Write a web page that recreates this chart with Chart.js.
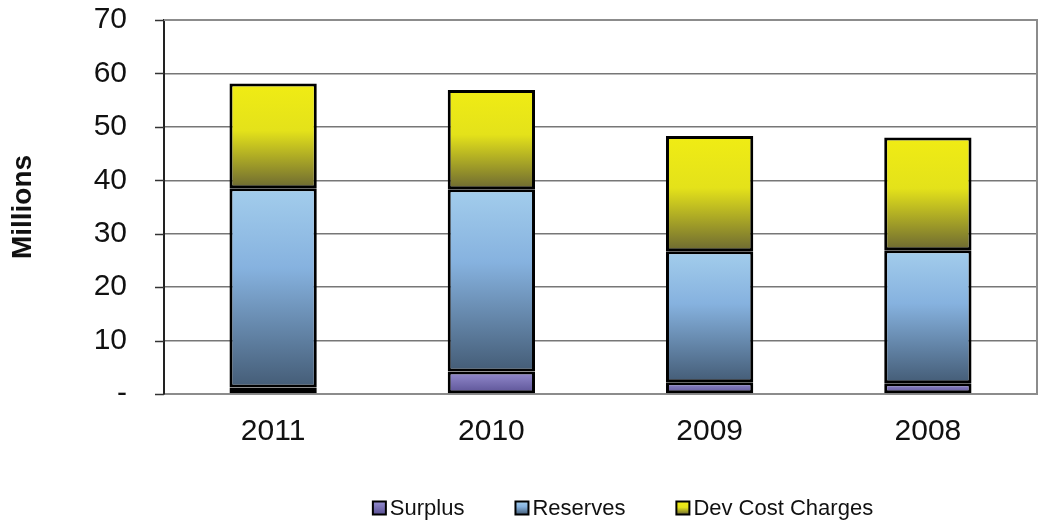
<!DOCTYPE html>
<html>
<head>
<meta charset="utf-8">
<script src="https://cdn.jsdelivr.net/npm/chart.js@4/dist/chart.umd.min.js"></script>
<style>
  html, body { margin: 0; padding: 0; background: #fff; }
  #wrap { width: 1044px; height: 525px; }
</style>
</head>
<body>
<div id="wrap"><canvas id="grafico" width="1044" height="525"></canvas></div>
<script>
const years = ['2011', '2010', '2009', '2008'];
const surplus = [1.2, 4.2, 2.2, 2.0];
const reserves = [37.3, 34.1, 24.5, 24.9];
const devCost = [19.6, 18.6, 21.6, 21.1];
const yTicks = [0, 10, 20, 30, 40, 50, 60, 70];
const nombres = ['Surplus', 'Reserves', 'Dev Cost Charges'];

const series = [surplus, reserves, devCost];

// degradados de cada serie, de arriba hacia abajo del segmento
const gradientes = [
  [[0, '#958dd0'], [1, '#5a5194']],
  [[0, '#a3cdec'], [0.4, '#86b2df'], [1, '#445c76']],
  [[0, '#f0ec14'], [0.45, '#e4e21a'], [1, '#6c6832']]
];
const legendColors = ['#7a70b8', '#7fb0dc', '#d0ce20'];

function hacerGradiente(ctx, idx, y0, y1) {
  const g = ctx.createLinearGradient(0, y0, 0, y1);
  gradientes[idx].forEach(([p, c]) => g.addColorStop(p, c));
  return g;
}

function relleno(idx) {
  return function (ctx) {
    const chart = ctx.chart;
    if (!chart.chartArea || !chart.scales.y) return legendColors[idx];
    const i = ctx.dataIndex;
    let base = 0;
    for (let k = 0; k < idx; k++) base += series[k][i];
    const y0 = chart.scales.y.getPixelForValue(base + series[idx][i]);
    const y1 = chart.scales.y.getPixelForValue(base);
    return hacerGradiente(chart.ctx, idx, y0, y1);
  };
}

// marco gris del área de trazado + marcas cortas del eje Y
const marco = {
  id: 'marco',
  beforeDatasetsDraw(chart) {
    const { ctx, chartArea: a, scales } = chart;
    ctx.save();
    ctx.strokeStyle = '#8c8c8c';
    ctx.lineWidth = 2;
    ctx.beginPath();
    ctx.moveTo(a.left, a.top);
    ctx.lineTo(a.right, a.top);
    ctx.lineTo(a.right, a.bottom);
    ctx.stroke();
    ctx.strokeStyle = '#333';
    ctx.lineWidth = 1.5;
    yTicks.forEach(v => {
      const y = Math.round(scales.y.getPixelForValue(v)) + 0.5;
      ctx.beginPath();
      ctx.moveTo(a.left - 9, y);
      ctx.lineTo(a.left, y);
      ctx.stroke();
    });
    ctx.restore();
  }
};

// leyenda dibujada a mano (centrada como en el original)
const LEGEND_CENTER = 623;
const leyenda = {
  id: 'leyenda',
  afterDraw(chart) {
    const ctx = chart.ctx;
    const box = 13, gapTexto = 4, gapItem = 51, yc = 508;
    ctx.save();
    ctx.font = '22px "Liberation Sans"';
    ctx.textBaseline = 'middle';
    const anchos = nombres.map(n => ctx.measureText(n).width);
    const total = anchos.reduce((s, w) => s + box + gapTexto + w, 0) + gapItem * (nombres.length - 1);
    let x = LEGEND_CENTER - total / 2;
    nombres.forEach((n, idx) => {
      ctx.fillStyle = hacerGradiente(ctx, idx, yc - box / 2, yc + box / 2);
      ctx.fillRect(x, yc - box / 2, box, box);
      ctx.strokeStyle = '#000';
      ctx.lineWidth = 2;
      ctx.strokeRect(x, yc - box / 2, box, box);
      ctx.fillStyle = '#111';
      ctx.fillText(n, x + box + gapTexto, yc + 1);
      x += box + gapTexto + anchos[idx] + gapItem;
    });
    ctx.restore();
  }
};

new Chart(document.getElementById('grafico'), {
  type: 'bar',
  data: {
    labels: years,
    datasets: series.map((d, idx) => ({
      label: nombres[idx],
      data: d,
      backgroundColor: relleno(idx),
      borderColor: '#000',
      borderWidth: 3,
      borderSkipped: false,
      categoryPercentage: 1,
      barPercentage: 0.4
    }))
  },
  options: {
    responsive: false,
    animation: false,
    layout: { padding: { left: 0, right: 7, top: 20, bottom: 76 } },
    scales: {
      x: {
        stacked: true,
        grid: { display: false, drawTicks: false },
        border: { color: '#8c8c8c', width: 2 },
        ticks: { color: '#111', font: { family: 'Liberation Sans', size: 30 }, padding: 20 },
        afterFit: s => { s.height = 55; }
      },
      y: {
        stacked: true,
        min: 0,
        max: 70,
        afterBuildTicks: axis => { axis.ticks = yTicks.map(v => ({ value: v })); },
        grid: { color: '#777', lineWidth: 1.5, tickLength: 37, tickColor: 'rgba(0,0,0,0)' },
        border: { color: '#222', width: 2 },
        ticks: {
          color: '#111',
          font: { family: 'Liberation Sans', size: 30 },
          padding: 0,
          callback: v => (v === 0 ? '-' : v)
        },
        title: {
          display: true,
          text: 'Millions',
          color: '#111',
          font: { family: 'Liberation Sans', size: 28, weight: 'bold' },
          padding: { top: 6, bottom: 20 }
        },
        afterFit: s => { s.width = 164; }
      }
    },
    plugins: {
      tooltip: { enabled: false },
      legend: { display: false }
    }
  },
  plugins: [marco, leyenda]
});
</script>
</body>
</html>
